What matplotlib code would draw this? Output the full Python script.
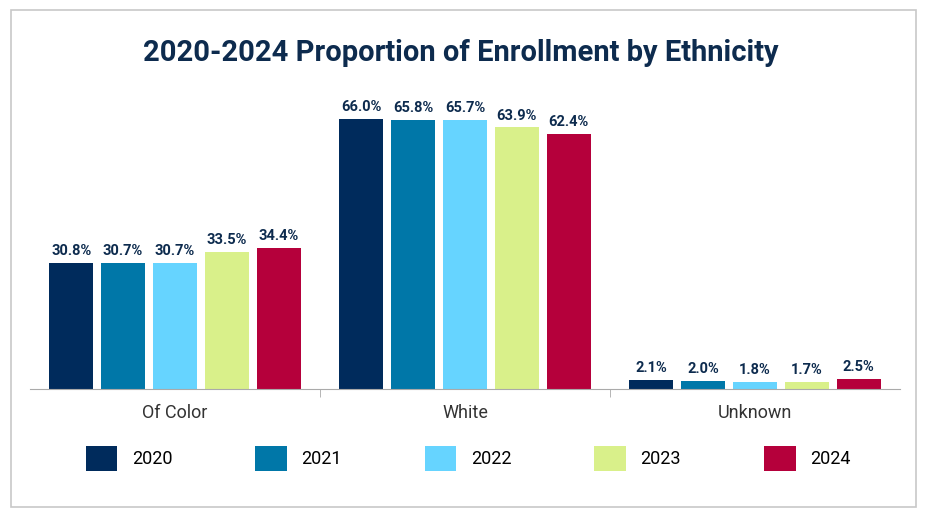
from matplotlib import pyplot as plt
from matplotlib.patches import Rectangle
import numpy as np

plt.rcParams['font.family'] = ['Roboto', 'DejaVu Sans']

categories = ["Of Color", "White", "Unknown"]
years = ["2020", "2021", "2022", "2023", "2024"]
colors = ["#002b5c", "#0077a8", "#66d4ff", "#d9f08a", "#b5003b"]
values = {
    "2020": [30.8, 66.0, 2.1],
    "2021": [30.7, 65.8, 2.0],
    "2022": [30.7, 65.7, 1.8],
    "2023": [33.5, 63.9, 1.7],
    "2024": [34.4, 62.4, 2.5],
}

fig = plt.figure(figsize=(9.27, 5.16), dpi=100)
fig.patches.append(Rectangle((0.012, 0.018), 0.976, 0.962, transform=fig.transFigure,
                             fill=False, edgecolor="#c8c8c8", linewidth=1.2))
ax = fig.add_axes([30/927, 127/516, 870/927, 307/516])

x = np.arange(len(categories))
width = 0.152
step = 0.179
for i, year in enumerate(years):
    pos = x + (i - 2) * step
    bars = ax.bar(pos, values[year], width, color=colors[i], label=year)
    for b, v in zip(bars, values[year]):
        ax.text(b.get_x() + b.get_width()/2, v + 1.2, f"{v:.1f}%", ha="center", va="bottom",
                fontsize=10.5, fontweight="bold", color="#0d2b4e")

ax.set_xlim(-0.5, 2.5)
ax.set_ylim(0, 75)
ax.set_yticks([])
ax.set_xticks(x)
ax.set_xticklabels(categories, fontsize=13, color="#333333")
ax.set_xticks([0.5, 1.5], minor=True)
ax.tick_params(axis="x", which="major", length=0, pad=11)
ax.tick_params(axis="x", which="minor", length=6, color="#aaaaaa")
for s in ["top", "right", "left"]:
    ax.spines[s].set_visible(False)
ax.spines["bottom"].set_color("#aaaaaa")

fig.text(0.497, 0.882, "2020-2024 Proportion of Enrollment by Ethnicity", ha="center",
         fontsize=21, fontweight="bold", color="#0d2b4e")

handles, labels = ax.get_legend_handles_labels()
fig.legend(handles, labels, loc="center", bbox_to_anchor=(0.505, 0.112), ncol=5, frameon=False,
           fontsize=13, handlelength=1.75, handleheight=1.75, columnspacing=4.6, handletextpad=0.8)

fig.savefig("out.png", dpi=100)
